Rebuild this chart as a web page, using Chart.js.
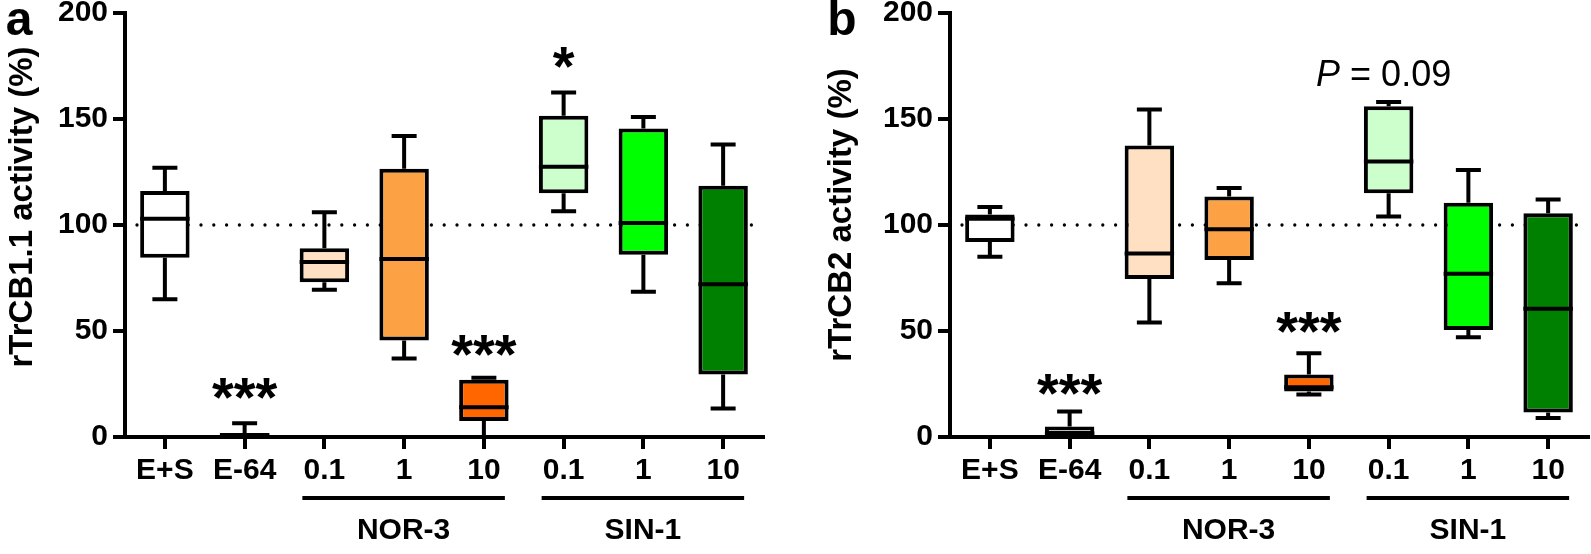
<!DOCTYPE html>
<html><head><meta charset="utf-8">
<script src="https://cdn.jsdelivr.net/npm/chart.js@4.4.1/dist/chart.umd.min.js"></script>
<style>
html,body{margin:0;padding:0;background:#fff;width:1591px;height:554px;overflow:hidden;}
#wrap{position:relative;width:1591px;height:554px;background:#fff;}
canvas{position:absolute;top:0;}
#ca{left:0;}
#cb{left:825px;}
</style></head><body>
<div id="wrap"><canvas id="ca" width="800" height="554"></canvas><canvas id="cb" width="766" height="554"></canvas></div>
<script>
// ---- data ----
const categories = ['E+S', 'E-64', '0.1', '1', '10', '0.1', '1', '10'];
const yTicks = [0, 50, 100, 150, 200];
const boxColors = ['#FFFFFF', '#FFFFFF', '#FFE0C2', '#FCA245', '#FF6600', '#CCFFCC', '#00FF00', '#008000'];

// panel a : rTrCB1.1
const aMin = [65, 0, 69.5, 37, 0, 106.5, 68.5, 13.5];
const aQ1  = [84.5, 0, 73, 45.5, 7.5, 115, 86, 29.5];
const aMed = [103, 0.9, 82.5, 84, 14, 127.5, 101, 72];
const aQ3  = [116, 1.8, 89, 126.5, 27, 151.5, 145.5, 118.5];
const aMax = [127, 6.5, 106, 142, 28, 162.5, 151, 138];
const aStarCats = [1, 4, 5];
const aStarY = [23, 43, 179];
const aStarText = ['***', '***', '*'];

// panel b : rTrCB2
const bMin = [85, 0, 54, 72.5, 20, 104, 47, 9];
const bQ1  = [92, 0, 74.5, 83.5, 21.5, 115, 50.5, 11.5];
const bMed = [103, 1.6, 86.5, 98, 23.5, 130, 77, 60.5];
const bQ3  = [105, 4.9, 137.5, 113.5, 29.5, 156, 110.5, 105.5];
const bMax = [108.5, 12, 154.5, 117.5, 39.5, 158, 126, 112];
const bStarCats = [1, 4];
const bStarY = [25, 54];
const bStarText = ['***', '***'];

const groupNames = ['NOR-3', 'SIN-1'];
const groupFrom = [2, 5];
const groupTo = [4, 7];

const FONT = "'Liberation Sans', Arial, Helvetica, sans-serif";

function fillCentered(ctx, text, x, cy, refGlyph) {
  // place text so that its visible glyph box is vertically centred on cy
  ctx.textBaseline = 'alphabetic';
  const m = ctx.measureText(refGlyph || text);
  const base = cy + (m.actualBoundingBoxAscent - m.actualBoundingBoxDescent) / 2;
  ctx.fillText(text, x, base);
}

const boxDecor = {
  id: 'boxDecor',
  beforeDatasetsDraw(chart) {
    const o = chart.options.plugins.boxDecor;
    const ctx = chart.ctx, xs = chart.scales.x, ys = chart.scales.y, ca = chart.chartArea;
    ctx.save();
    // dotted reference line at 100
    ctx.strokeStyle = '#000';
    ctx.lineWidth = 3.3;
    ctx.lineCap = 'round';
    ctx.setLineDash([0, 12.8]);
    const y100 = ys.getPixelForValue(o.refValue);
    ctx.beginPath();
    ctx.moveTo(ca.left + 12, y100);
    ctx.lineTo(ca.right, y100);
    ctx.stroke();
    ctx.setLineDash([]);
    // whiskers
    ctx.lineCap = 'butt';
    ctx.lineWidth = 4;
    for (let i = 0; i < o.min.length; i++) {
      const x = xs.getPixelForValue(i);
      const yMin = ys.getPixelForValue(o.min[i]);
      const yQ1 = ys.getPixelForValue(o.q1[i]);
      const yQ3 = ys.getPixelForValue(o.q3[i]);
      const yMax = ys.getPixelForValue(o.max[i]);
      ctx.beginPath();
      if (o.min[i] < o.q1[i]) {
        ctx.moveTo(x, yQ1); ctx.lineTo(x, yMin);
        ctx.moveTo(x - 12.5, yMin); ctx.lineTo(x + 12.5, yMin);
      }
      if (o.max[i] > o.q3[i]) {
        ctx.moveTo(x, yQ3); ctx.lineTo(x, yMax);
        ctx.moveTo(x - 12.5, yMax); ctx.lineTo(x + 12.5, yMax);
      }
      ctx.stroke();
    }
    ctx.restore();
  },
  afterDatasetsDraw(chart) {
    const o = chart.options.plugins.boxDecor;
    const ctx = chart.ctx, xs = chart.scales.x, ys = chart.scales.y;
    const meta = chart.getDatasetMeta(0);
    ctx.save();
    ctx.strokeStyle = '#000';
    ctx.lineWidth = 4;
    for (let i = 0; i < o.med.length; i++) {
      const bar = meta.data[i];
      const y = ys.getPixelForValue(o.med[i]);
      ctx.beginPath();
      ctx.moveTo(bar.x - bar.width / 2, y);
      ctx.lineTo(bar.x + bar.width / 2, y);
      ctx.stroke();
    }
    // significance marks
    ctx.fillStyle = '#000';
    ctx.font = 'bold 56px ' + FONT;
    ctx.textAlign = 'center';
    for (let k = 0; k < o.starCats.length; k++) {
      const x = xs.getPixelForValue(o.starCats[k]);
      const y = ys.getPixelForValue(o.starY[k]);
      fillCentered(ctx, o.starText[k], x, y);
    }
    if (o.pText) {
      const x = xs.getPixelForValue(o.pCat) - 5;
      const y = ys.getPixelForValue(o.pY);
      const f1 = 'italic 36px ' + FONT, f2 = '36px ' + FONT;
      ctx.font = f1; const w1 = ctx.measureText('P').width;
      ctx.font = f2; const w2 = ctx.measureText(' = 0.09').width;
      const x0 = x - (w1 + w2) / 2;
      ctx.textAlign = 'left';
      ctx.font = f1; fillCentered(ctx, 'P', x0, y, 'P');
      ctx.font = f2; fillCentered(ctx, ' = 0.09', x0 + w1, y, '0');
    }
    ctx.restore();
  },
  afterDraw(chart) {
    const o = chart.options.plugins.boxDecor;
    const ctx = chart.ctx, xs = chart.scales.x;
    ctx.save();
    ctx.fillStyle = '#000';
    ctx.strokeStyle = '#000';
    // x tick labels (category names from the scale)
    ctx.font = 'bold 30px ' + FONT;
    ctx.textAlign = 'center';
    for (let i = 0; i < categories.length; i++) {
      fillCentered(ctx, xs.getLabelForValue(i), xs.getPixelForValue(i), 469, 'E');
    }
    // y title
    ctx.save();
    ctx.translate(o.titleX, o.titleY);
    ctx.rotate(-Math.PI / 2);
    ctx.font = 'bold 33px ' + FONT;
    ctx.textAlign = 'center';
    ctx.textBaseline = 'middle';
    ctx.fillText(o.title, 0, 0);
    ctx.restore();
    // panel letter
    ctx.font = 'bold 48px ' + FONT;
    ctx.textAlign = 'center';
    ctx.textBaseline = 'alphabetic';
    ctx.fillText(o.letter, o.letterX, 35);
    // group bars and labels
    ctx.lineWidth = 4;
    ctx.font = 'bold 30px ' + FONT;
    for (let g = 0; g < groupNames.length; g++) {
      const x1 = xs.getPixelForValue(groupFrom[g]) - 22;
      const x2 = xs.getPixelForValue(groupTo[g]) + 21;
      ctx.beginPath();
      ctx.moveTo(x1, 498); ctx.lineTo(x2, 498);
      ctx.stroke();
      fillCentered(ctx, groupNames[g], (x1 + x2) / 2, 529, 'N');
    }
    ctx.restore();
  }
};

function makeChart(id, min, q1, med, q3, max, extra, padRight) {
  const floating = q1.map((v, i) => [v, q3[i]]);
  return new Chart(document.getElementById(id), {
    type: 'bar',
    data: {
      labels: categories,
      datasets: [{
        data: floating,
        backgroundColor: boxColors,
        borderColor: '#000',
        borderWidth: 4,
        borderSkipped: false,
        barPercentage: 0.62,
        categoryPercentage: 1
      }]
    },
    plugins: [boxDecor],
    options: {
      responsive: false,
      devicePixelRatio: 1,
      animation: false,
      layout: { padding: { top: 13, left: 0, right: padRight, bottom: 0 } },
      plugins: {
        legend: { display: false },
        tooltip: { enabled: false },
        boxDecor: Object.assign({ min, q1, med, q3, max, refValue: 100 }, extra)
      },
      scales: {
        x: {
          type: 'category',
          offset: true,
          grid: { display: true, drawOnChartArea: false, drawTicks: true, tickLength: 12, lineWidth: 4, color: '#000', offset: false },
          border: { display: true, width: 4, color: '#000' },
          ticks: { display: false, autoSkip: false, maxRotation: 0 },
          afterFit(s) { s.height = 117; s.paddingLeft = 0; s.paddingRight = 0; }
        },
        y: {
          min: 0, max: 200,
          afterBuildTicks(s) { s.ticks = yTicks.map(v => ({ value: v })); },
          grid: { display: true, drawOnChartArea: false, drawTicks: true, tickLength: 12, lineWidth: 4, color: '#000' },
          border: { display: true, width: 4, color: '#000' },
          ticks: { color: '#000', font: { family: FONT, size: 30, weight: 'bold', lineHeight: 1 }, padding: 5 },
          afterFit(s) { s.width = 125; s.paddingTop = 0; s.paddingBottom = 0; }
        }
      }
    }
  });
}

makeChart('ca', aMin, aQ1, aMed, aQ3, aMax, {
  starCats: aStarCats, starY: aStarY, starText: aStarText,
  title: 'rTrCB1.1 activity (%)', titleX: 23, titleY: 207,
  letter: 'a', letterX: 19
}, 37);

makeChart('cb', bMin, bQ1, bMed, bQ3, bMax, {
  starCats: bStarCats, starY: bStarY, starText: bStarText,
  pText: true, pCat: 5, pY: 171.5,
  title: 'rTrCB2 activity (%)', titleX: 17, titleY: 215,
  letter: 'b', letterX: 17
}, 3);
</script>
</body></html>
